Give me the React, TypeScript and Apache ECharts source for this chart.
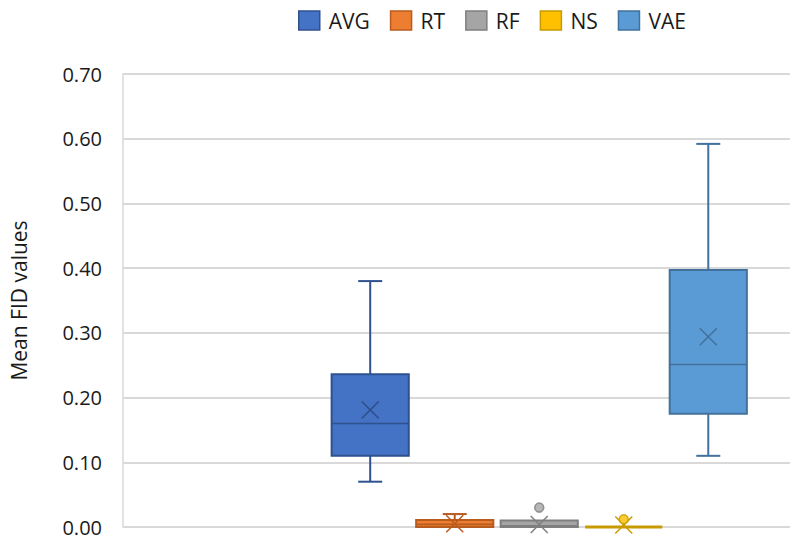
import React, { useEffect, useRef } from "react";
import * as echarts from "echarts";

// ---- data ----
const groups = ["AVG", "RT", "RF", "NS", "VAE"];
const positions = [1, 2, 3, 4, 5];
const mins = [0.07, 0, 0, 0, 0.11];
const q1s = [0.11, 0, 0, 0, 0.175];
const medians = [0.16, 0.004, 0.002, 0, 0.251];
const q3s = [0.236, 0.011, 0.01, 0, 0.397];
const maxs = [0.38, 0.02, 0.01, 0, 0.592];
const means = [0.181, 0.005, 0.004, 0.003, 0.294];
const outliers: number[][] = [[], [], [0.03], [0.012], []];
const yMin = 0;
const yMax = 0.7;
const yStep = 0.1;
const yTitle = "Mean FID values";

// ---- styles ----
const fills = ["#4472C4", "#ED7D31", "#A5A5A5", "#FFC000", "#5B9BD5"];
const borders = ["#2F528F", "#B85B1E", "#7F7F7F", "#C99A00", "#41719C"];
const FONT = "'Open Sans', 'Liberation Sans', sans-serif";
const BOX_UNITS = 0.913;
const CAP_HALF = 12;
const MEAN_HALF = 8.5;

function makeRender(i: number) {
  return (params: any, api: any) => {
    const x = api.value(0);
    const vMin = api.value(1);
    const vQ1 = api.value(2);
    const vMed = api.value(3);
    const vQ3 = api.value(4);
    const vMax = api.value(5);
    const vMean = api.value(6);
    const cx = api.coord([x, vMed])[0];
    const py = (v: number) => api.coord([x, v])[1];
    const half = api.size([BOX_UNITS, 0])[0] / 2;
    const stroke = borders[i];
    const children: any[] = [];
    const lineStyle = { stroke, lineWidth: 2 };
    if (vMax > vQ3) {
      children.push({ type: "line", shape: { x1: cx, y1: py(vQ3), x2: cx, y2: py(vMax) }, style: lineStyle });
      children.push({ type: "line", shape: { x1: cx - CAP_HALF, y1: py(vMax), x2: cx + CAP_HALF, y2: py(vMax) }, style: lineStyle });
    }
    if (vMin < vQ1) {
      children.push({ type: "line", shape: { x1: cx, y1: py(vQ1), x2: cx, y2: py(vMin) }, style: lineStyle });
      children.push({ type: "line", shape: { x1: cx - CAP_HALF, y1: py(vMin), x2: cx + CAP_HALF, y2: py(vMin) }, style: lineStyle });
    }
    const top = py(vQ3);
    const bot = py(vQ1);
    children.push({
      type: "rect",
      shape: { x: cx - half, y: top, width: half * 2, height: bot - top },
      style: { fill: fills[i], stroke, lineWidth: vQ3 > vQ1 ? 2 : 3 },
    });
    if (vQ3 > vQ1) {
      children.push({ type: "line", shape: { x1: cx - half, y1: py(vMed), x2: cx + half, y2: py(vMed) }, style: { stroke, lineWidth: 1.6 } });
    }
    const my = py(vMean);
    children.push({ type: "line", shape: { x1: cx - MEAN_HALF, y1: my - MEAN_HALF, x2: cx + MEAN_HALF, y2: my + MEAN_HALF }, style: { stroke, lineWidth: 1.5 } });
    children.push({ type: "line", shape: { x1: cx - MEAN_HALF, y1: my + MEAN_HALF, x2: cx + MEAN_HALF, y2: my - MEAN_HALF }, style: { stroke, lineWidth: 1.5 } });
    return { type: "group", children };
  };
}

export default function App() {
  const ref = useRef<HTMLDivElement>(null);
  useEffect(() => {
    if (!ref.current) return;
    const chart = echarts.init(ref.current, undefined, { renderer: "svg" });
    const boxSeries = groups.map((g, i) => ({
      name: g,
      type: "custom",
      renderItem: makeRender(i),
      itemStyle: { color: fills[i], borderColor: borders[i] },
      encode: { x: 0, y: [1, 2, 3, 4, 5, 6] },
      data: [[positions[i], mins[i], q1s[i], medians[i], q3s[i], maxs[i], means[i]]],
      z: 3,
    }));
    const outlierSeries = groups.map((g, i) => ({
      name: g,
      type: "scatter",
      symbol: "circle",
      symbolSize: 9,
      itemStyle: { color: fills[i], borderColor: borders[i], borderWidth: 1.5 },
      data: outliers[i].map((v) => [positions[i], v]),
      z: 4,
    }));
    chart.setOption({
      animation: false,
      backgroundColor: "#ffffff",
      textStyle: { fontFamily: FONT },
      legend: {
        left: 293,
        top: 5,
        itemWidth: 21,
        itemHeight: 19,
        itemGap: 20,
        icon: "rect",
        textStyle: { fontSize: 21, color: "#1a1a1a", fontFamily: FONT, padding: [0, 0, 0, 4] },
        data: groups.map((g, i) => ({
          name: g,
          itemStyle: { color: fills[i], borderColor: borders[i], borderWidth: 1.5 },
        })),
      },
      grid: { left: 116, right: 2, top: 74, height: 453, containLabel: false },
      xAxis: {
        type: "value",
        min: -1.925,
        max: 5.967,
        show: false,
      },
      yAxis: {
        type: "value",
        min: yMin,
        max: yMax,
        interval: yStep,
        position: "left",
        name: yTitle,
        nameLocation: "middle",
        nameGap: 94,
        nameRotate: 90,
        nameTextStyle: { fontSize: 21, color: "#1a1a1a", fontFamily: FONT },
        axisLine: { show: true, onZero: false, lineStyle: { color: "#D9D9D9", width: 1.5 } },
        axisTick: { show: false },
        axisLabel: {
          fontSize: 20,
          color: "#1a1a1a",
          margin: 21,
          fontFamily: FONT,
          formatter: (v: number) => v.toFixed(2),
        },
        splitLine: { show: true, lineStyle: { color: "#D9D9D9", width: 2 } },
      },
      series: [...boxSeries, ...outlierSeries],
    });
    return () => chart.dispose();
  }, []);
  return (
    <div
      ref={ref}
      style={{ position: "fixed", left: 0, top: 0, width: 792, height: 560, background: "#fff" }}
    />
  );
}
